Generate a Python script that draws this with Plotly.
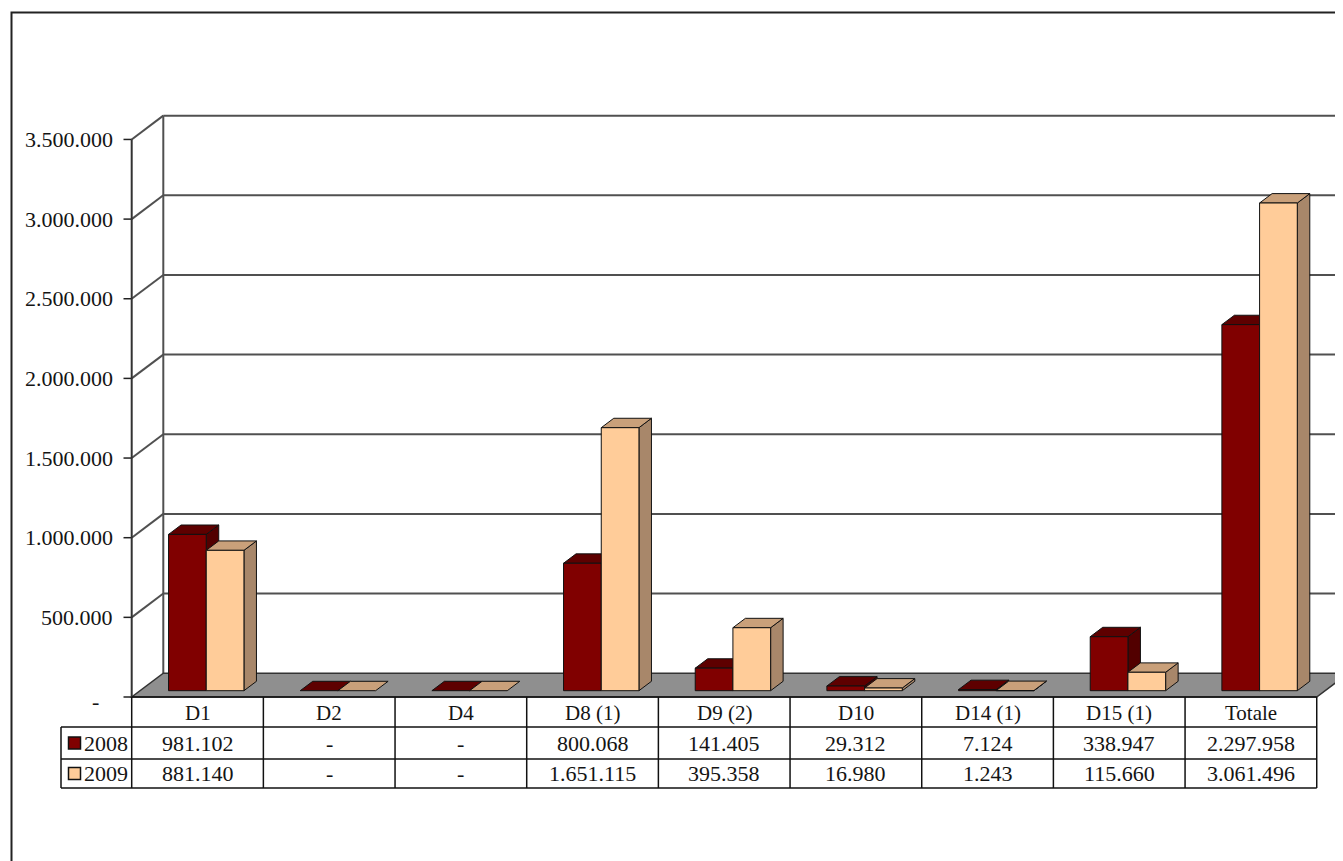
import plotly.graph_objects as go

# ---------------- data ----------------
categories = ["D1", "D2", "D4", "D8 (1)", "D9 (2)", "D10", "D14 (1)", "D15 (1)", "Totale"]
series_names = ["2008", "2009"]
values_2008 = [981102, 0, 0, 800068, 141405, 29312, 7124, 338947, 2297958]
values_2009 = [881140, 0, 0, 1651115, 395358, 16980, 1243, 115660, 3061496]
tick_values = [0, 500000, 1000000, 1500000, 2000000, 2500000, 3000000, 3500000]
tick_labels = ["-", "500.000", "1.000.000", "1.500.000", "2.000.000",
               "2.500.000", "3.000.000", "3.500.000"]

# ---------------- style / geometry ----------------
W, H = 1343, 861
OFF = 8                  # page body margin
CAT_PX = 131.67          # pixels per category
X0_PX = 131.7            # left edge of first category (front plane)
Y0_PX = 697.0            # zero line (front plane)
VAL_PX = 159.3e-6        # pixels per unit value
FONT = "Liberation Serif"
TXT = "#141414"
FS_NUM = 22
FS_CAT = 21
FRONT = ["#800000", "#FFCC99"]
TOP = ["#5e0000", "#C9A07A"]
SIDE = ["#520000", "#A8876A"]
FLOOR = "#8f8f8f"
GRID = "#505050"


def X(px):
    return (px - X0_PX) / CAT_PX - 0.5


def Y(py):
    return (Y0_PX - py) / VAL_PX


def DX(d):
    return d / CAT_PX


def DY(d):
    return d / VAL_PX


# wall depth
WDX, WDY = DX(31.6), DY(23.8)
# bar placement
BAR_SHIFT = DX(8.7)
BAR_BASE = DY(6.3)
BW = DX(37.7)
BDX, BDY = DX(12.5), DY(9.4)

n = len(categories)
xl, xr = -0.5, n - 0.5
vmax = tick_values[-1]

fig = go.Figure()
shapes = []
annotations = []

# gridlines (back wall) and diagonals
for v in tick_values:
    if v > 0:
        shapes.append(dict(type="line", x0=xl, y0=v, x1=xl + WDX, y1=v + WDY,
                           line=dict(color=GRID, width=2), layer="below"))
        shapes.append(dict(type="line", x0=xl + WDX, y0=v + WDY, x1=xr + WDX + 1, y1=v + WDY,
                           line=dict(color=GRID, width=2), layer="below"))
    shapes.append(dict(type="line", x0=X(123.5), y0=v, x1=xl, y1=v,
                       line=dict(color="#222", width=1.5), layer="below"))
shapes.append(dict(type="line", x0=xl + WDX, y0=WDY, x1=xl + WDX, y1=vmax + WDY,
                   line=dict(color=GRID, width=2), layer="below"))
shapes.append(dict(type="line", x0=xl, y0=0, x1=xl, y1=vmax,
                   line=dict(color="#333", width=2), layer="below"))
shapes.append(dict(type="path",
                   path=f"M {xl},0 L {xr},0 L {xr + WDX},{WDY} L {xl + WDX},{WDY} Z",
                   fillcolor=FLOOR, line=dict(color="#333", width=1.5), layer="below"))

# bars
series_values = [values_2008, values_2009]
for i in range(n):
    c = i + BAR_SHIFT
    for s, vals in enumerate(series_values):
        x0 = c - BW + s * BW
        x1 = x0 + BW
        b = BAR_BASE
        t = b + vals[i]
        faces = []
        if vals[i] > 0:
            faces.append(([x1, x1 + BDX, x1 + BDX, x1, x1], [b, b + BDY, t + BDY, t, b], SIDE[s]))
        faces.append(([x0, x1, x1 + BDX, x0 + BDX, x0], [t, t, t + BDY, t + BDY, t], TOP[s]))
        if vals[i] > 0:
            faces.append(([x0, x1, x1, x0, x0], [b, b, t, t, b], FRONT[s]))
        for fx, fy, col in faces:
            fig.add_trace(go.Scatter(x=fx, y=fy, mode="lines", fill="toself",
                                     fillcolor=col, line=dict(color="#111", width=1),
                                     hoverinfo="skip", showlegend=False))

# tick labels
for v, lab in zip(tick_values, tick_labels):
    if lab == "-":
        annotations.append(dict(x=X(95.5), y=v - DY(4.5), text=lab, showarrow=False,
                                xanchor="center", yanchor="middle",
                                font=dict(family=FONT, size=FS_NUM, color=TXT)))
    else:
        annotations.append(dict(x=X(114.5), y=v, text=lab, showarrow=False,
                                xanchor="right", yanchor="middle",
                                font=dict(family=FONT, size=FS_NUM, color=TXT)))

# data table
ROW_Y = [697, 727, 759, 788]
LEG_L = 61
tl = dict(color="#111", width=1.5)
for py in ROW_Y[1:]:
    shapes.append(dict(type="line", x0=X(LEG_L), y0=Y(py), x1=xr, y1=Y(py), line=tl))
shapes.append(dict(type="line", x0=xl, y0=Y(ROW_Y[0]), x1=xr, y1=Y(ROW_Y[0]), line=tl))
for k in range(n + 1):
    shapes.append(dict(type="line", x0=xl + k, y0=Y(ROW_Y[0]), x1=xl + k, y1=Y(ROW_Y[3]), line=tl))
shapes.append(dict(type="line", x0=X(LEG_L), y0=Y(ROW_Y[1]), x1=X(LEG_L), y1=Y(ROW_Y[3]), line=tl))


def fmt(v):
    return "-" if v == 0 else f"{v:,}".replace(",", ".")


hy = Y((ROW_Y[0] + ROW_Y[1]) / 2 + 1)
for i, cat in enumerate(categories):
    annotations.append(dict(x=i, y=hy, text=cat, showarrow=False, xanchor="center",
                            yanchor="middle", font=dict(family=FONT, size=FS_CAT, color=TXT)))
for s, vals in enumerate(series_values):
    cy = (ROW_Y[s + 1] + ROW_Y[s + 2]) / 2
    ry = Y(cy)
    for i, v in enumerate(vals):
        annotations.append(dict(x=i, y=ry, text=fmt(v), showarrow=False, xanchor="center",
                                yanchor="middle", font=dict(family=FONT, size=FS_NUM, color=TXT)))
    shapes.append(dict(type="rect", x0=X(68.5), x1=X(80.5), y0=Y(cy + 6), y1=Y(cy - 6),
                       fillcolor=FRONT[s], line=dict(color="#111", width=1.5)))
    annotations.append(dict(x=X(82), y=ry, text=series_names[s], showarrow=False,
                            xanchor="left", yanchor="middle",
                            font=dict(family=FONT, size=FS_NUM, color=TXT)))

# outer frame
FW, FH = W - OFF, H - OFF
fx = (11.5 - OFF) / FW
fy = 1 - (12.5 - OFF) / FH
shapes.append(dict(type="path", xref="paper", yref="paper",
                   path=f"M {fx},-0.05 L {fx},{fy} L 1.05,{fy}",
                   line=dict(color="#222", width=2)))

fig.update_layout(
    width=FW, height=FH,
    margin=dict(l=0, r=0, t=0, b=0),
    paper_bgcolor="white", plot_bgcolor="white",
    showlegend=False,
    shapes=shapes, annotations=annotations,
    xaxis=dict(range=[X(OFF), X(W)], visible=False, fixedrange=True),
    yaxis=dict(range=[Y(H), Y(OFF)], visible=False, fixedrange=True),
)

fig.write_html("out.html")
